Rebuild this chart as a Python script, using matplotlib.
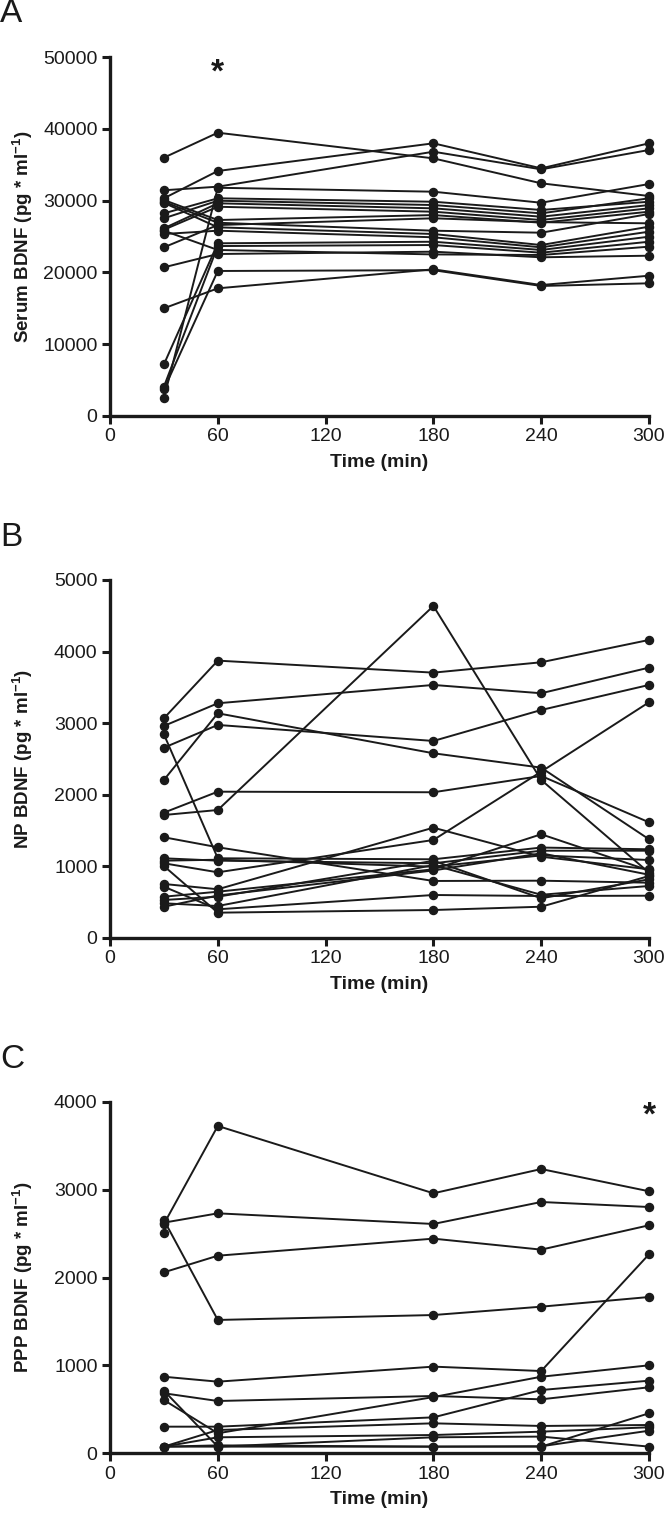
import matplotlib
matplotlib.use("Agg")
import matplotlib.pyplot as plt

plt.rcParams['font.family'] = ['Liberation Sans', 'DejaVu Sans']
plt.rcParams['mathtext.fontset'] = 'custom'
plt.rcParams['mathtext.bf'] = 'Liberation Sans:bold'
plt.rcParams['mathtext.rm'] = 'Liberation Sans'
plt.rcParams['mathtext.default'] = 'bf'

times = [30, 60, 180, 240, 300]
x_ticks = [0, 60, 120, 180, 240, 300]

# Panel A: serum BDNF per subject (pg/ml) at 30, 60, 180, 240, 300 min
serum_bdnf = [
    [36000, 39480, 35900, 32420, 30650],
    [30330, 34140, 38000, 34510, 38000],
    [31450, 31950, 36830, 34370, 37070],
    [2420, 31800, 31250, 29710, 32320],
    [28230, 30330, 29850, 28700, 29850],
    [27540, 29990, 29390, 28230, 30330],
    [26140, 29630, 28930, 27760, 29390],
    [25950, 29150, 28460, 27300, 28930],
    [30090, 27300, 27990, 26920, 28460],
    [29850, 26920, 25810, 25530, 28140],
    [23490, 26600, 27540, 27000, 26840],
    [29700, 26280, 25350, 23810, 26370],
    [25350, 25810, 24890, 23490, 25670],
    [7160, 24050, 24270, 23120, 24970],
    [4050, 23670, 23810, 22740, 24270],
    [3670, 20190, 20300, 18100, 18470],
    [20700, 22560, 22880, 22100, 22320],
    [14980, 17770, 20420, 18230, 19530],
    [25810, 23120, 22500, 22420, 23580],
]

# Panel B: nasopharyngeal BDNF
np_bdnf = [
    [3067, 3873, 3705, 3850, 4162],
    [2960, 3277, 3533, 3417, 3775],
    [2656, 2974, 2750, 3183, 3533],
    [2205, 3137, 2578, 2377, 1376],
    [1748, 2041, 2033, 2261, 1613],
    [1715, 1785, 4637, 2205, 909],
    [2843, 1110, 1096, 1260, 1236],
    [1404, 1264, 793, 797, 769],
    [1110, 1077, 1040, 1216, 1216],
    [1077, 1090, 993, 1150, 1086],
    [1040, 914, 1366, 2321, 3291],
    [1002, 350, 387, 433, 862],
    [751, 677, 1538, 1132, 956],
    [713, 397, 597, 583, 587],
    [573, 643, 956, 1446, 940],
    [527, 573, 1075, 551, 816],
    [481, 443, 1015, 600, 723],
    [433, 590, 940, 1180, 880],
]

# Panel C: platelet-poor plasma BDNF
ppp_bdnf = [
    [2609, 3724, 2958, 3234, 2981],
    [2624, 2730, 2609, 2859, 2802],
    [2059, 2248, 2442, 2317, 2594],
    [2654, 1517, 1573, 1668, 1778],
    [871, 815, 986, 936, 2264],
    [683, 595, 652, 614, 751],
    [606, 228, 640, 871, 1001],
    [712, 76, 182, 190, 76],
    [303, 303, 409, 720, 826],
    [76, 265, 341, 311, 322],
    [76, 182, 208, 246, 296],
    [76, 76, 76, 76, 455],
    [76, 90, 76, 80, 257],
]
ppp_single_t30 = [2503]

panels = [
    ("A", serum_bdnf, 50000, 10000, "Serum BDNF (pg * ml$^{-1}$)", (60, 47800)),
    ("B", np_bdnf, 5000, 1000, "NP BDNF (pg * ml$^{-1}$)", None),
    ("C", ppp_bdnf, 4000, 1000, "PPP BDNF (pg * ml$^{-1}$)", (300, 3840)),
]

W, H = 664, 1533
fig = plt.figure(figsize=(W / 100, H / 100), dpi=100)

# axes placement in pixels: (left, right, top, bottom)
boxes = [(110, 649, 57.3, 415.7), (110, 649, 580, 937.7), (110, 649, 1101.7, 1453.3)]
letter_y = [14, 537, 1060]

for (letter, data, ymax, ystep, ylabel, star), (l, r, t, b), ly in zip(panels, boxes, letter_y):
    ax = fig.add_axes([l / W, 1 - b / H, (r - l) / W, (b - t) / H])
    for subj in data:
        ax.plot(times, subj, color='#1a1a1a', lw=1.4, marker='o', ms=5.8,
                markerfacecolor='#1a1a1a', markeredgecolor='#1a1a1a', clip_on=False, zorder=3)
    if letter == "C":
        ax.plot([30] * len(ppp_single_t30), ppp_single_t30, 'o', color='#1a1a1a', ms=5.8,
                clip_on=False, zorder=3)
    ax.set_xlim(0, 300)
    ax.set_ylim(0, ymax)
    ax.set_xticks(x_ticks)
    ax.set_yticks(list(range(0, ymax + 1, ystep)))
    for s in ['top', 'right']:
        ax.spines[s].set_visible(False)
    for s in ['left', 'bottom']:
        ax.spines[s].set_linewidth(2.4)
        ax.spines[s].set_color('#1a1a1a')
    ax.tick_params(axis='both', which='major', direction='out', length=6, width=2.2,
                   labelsize=14, color='#1a1a1a', labelcolor='#1a1a1a', pad=3)
    ax.set_xlabel("Time (min)", fontsize=14, fontweight='bold', labelpad=6, color='#1a1a1a')
    ax.set_ylabel(ylabel, fontsize=13.5, fontweight='bold', labelpad=6, color='#1a1a1a')
    ax.yaxis.set_label_coords(-0.14, 0.5)
    if star is not None:
        ax.text(star[0], star[1], "*", ha='center', va='center', fontsize=24,
                fontweight='bold', color='#1a1a1a', clip_on=False)
    fig.text(0.0, 1 - ly / H, letter, fontsize=24, ha='left', va='center', color='#1a1a1a')

fig.savefig("out.png", dpi=100)
